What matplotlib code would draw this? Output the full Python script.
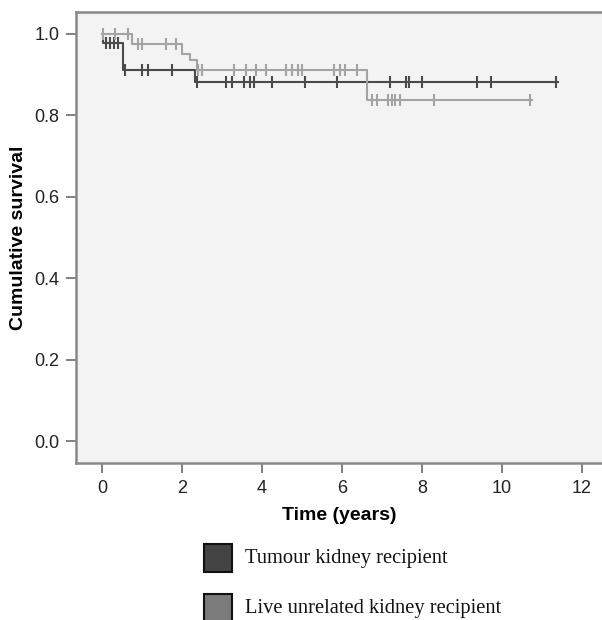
import numpy as np
import matplotlib
matplotlib.use("Agg")
import matplotlib.pyplot as plt
from matplotlib.patches import Rectangle

# Kaplan-Meier step data
tumour_t = [0.0, 0.03, 0.52, 2.32]
tumour_s = [1.0, 0.978, 0.912, 0.882]
tumour_end = 11.4
tumour_cens = [0.1, 0.2, 0.3, 0.4, 0.57, 1.0, 1.15, 1.75, 2.37, 3.1, 3.25, 3.55,
               3.7, 3.8, 4.25, 5.07, 5.87, 7.2, 7.6, 7.67, 8.0, 9.37, 9.72, 11.35]

live_t = [0.0, 0.75, 2.0, 2.2, 2.37, 6.62]
live_s = [1.0, 0.975, 0.95, 0.935, 0.912, 0.838]
live_end = 10.75
live_cens = [0.03, 0.33, 0.65, 0.9, 1.0, 1.6, 1.85, 2.4, 2.5, 3.3, 3.6, 3.85, 4.1,
             4.6, 4.75, 4.9, 5.0, 5.8, 5.95, 6.07, 6.37, 6.75, 6.87, 7.15, 7.25,
             7.32, 7.45, 8.3, 10.7]

labels = ["Tumour kidney recipient", "Live unrelated kidney recipient"]
line_colors = ["#4a4a4a", "#a3a3a3"]
box_colors = ["#444444", "#7b7b7b"]
xticks = [0, 2, 4, 6, 8, 10, 12]
yticks = [0.0, 0.2, 0.4, 0.6, 0.8, 1.0]

plt.rcParams["font.family"] = ["Liberation Sans", "DejaVu Sans"]


def surv_at(times, surv, t):
    idx = np.searchsorted(times, t, side="right") - 1
    return np.array(surv)[idx]


fig = plt.figure(figsize=(6.02, 6.2), dpi=100)
ax = fig.add_axes([0.126, 0.253, 0.874, 0.728])
ax.set_facecolor("#f3f3f3")

for times, surv, end, cens, col in [
    (tumour_t, tumour_s, tumour_end, tumour_cens, line_colors[0]),
    (live_t, live_s, live_end, live_cens, line_colors[1]),
]:
    xs = list(times) + [end]
    ys = list(surv) + [surv[-1]]
    ax.step(xs, ys, where="post", color=col, lw=1.5)
    cs = np.array(cens)
    ax.plot(cs, surv_at(times, surv, cs), ls="none", marker="|",
            ms=8, mew=1.5, color=col)

ax.set_xlim(-0.65, 12.5)
ax.set_ylim(-0.054, 1.054)
ax.set_xticks(xticks)
ax.set_yticks(yticks)
ax.set_yticklabels([f"{v:.1f}" for v in yticks])
ax.tick_params(direction="out", length=7, width=1.3, color="#777777",
               labelsize=13, labelcolor="#222222", pad=5)
for side in ["left", "bottom", "top"]:
    ax.spines[side].set_color("#888888")
    ax.spines[side].set_linewidth(1.8)
ax.spines["right"].set_visible(False)

ax.set_xlabel("Time (years)", fontsize=14, fontweight="bold", labelpad=7)
ax.set_ylabel("Cumulative survival", fontsize=14, fontweight="bold", labelpad=5)

# legend below the plot
for i, (lab, bc) in enumerate(zip(labels, box_colors)):
    y0 = 1 - (572 + i * 50) / 620
    fig.patches.append(Rectangle((204 / 602, y0), 28 / 602, 28 / 620,
                                 transform=fig.transFigure, facecolor=bc,
                                 edgecolor="#111111", lw=1.5))
    fig.text(245 / 602, y0 + 14 / 620, lab, family="Liberation Serif",
             fontsize=14.8, va="center", ha="left", color="#111111")

fig.savefig("out.png", dpi=100)
